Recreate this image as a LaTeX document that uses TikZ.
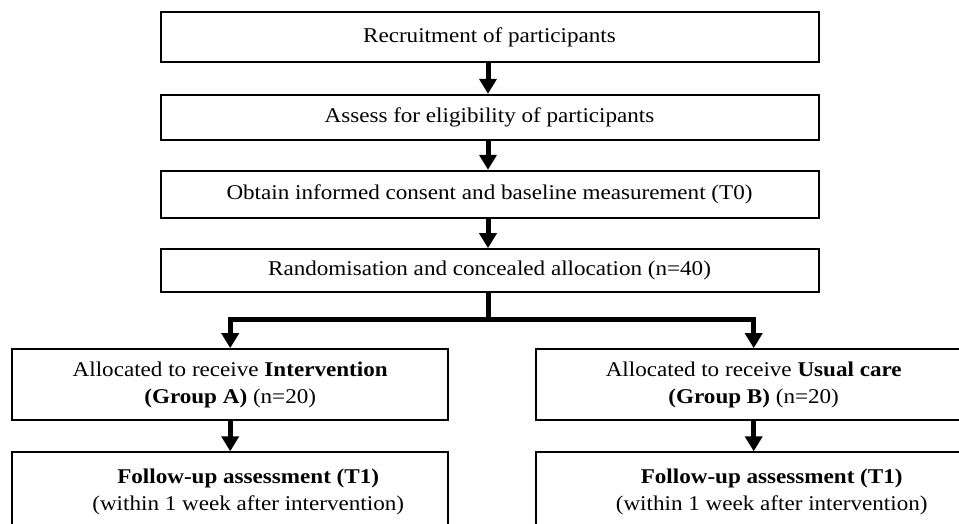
\documentclass[tikz,border=0pt]{standalone}
\usepackage{fontspec}
\setmainfont{Liberation Serif}[FakeStretch=1.1]
\usetikzlibrary{arrows.meta}

\begin{document}
\begin{tikzpicture}[x=1pt,y=-1pt,
	box/.style={draw,line width=2pt,inner sep=0pt,align=center,font=\fontsize{21}{27}\selectfont},
	wide/.style={box,minimum width=658pt},
	half/.style={box,minimum width=436pt},
	link/.style={line width=5pt},
	arr/.style={link,-{Triangle[width=17pt,length=15pt]}}
]
	\useasboundingbox (0,0) rectangle (959,523);
	\clip (0,0) rectangle (959,523);

	% main column
	\node[wide,minimum height=50.7pt] (recruit) at (489.5,37) {Recruitment of participants};
	\node[wide,minimum height=45pt] (elig) at (489.5,117.3) {Assess for eligibility of participants};
	\node[wide,minimum height=47.4pt] (consent) at (489.5,194.5) {Obtain informed consent and baseline measurement (T0)};
	\node[wide,minimum height=43.3pt] (random) at (489.5,270.8) {Randomisation and concealed allocation (n=40)};

	% groups
	\node[half,minimum height=71.3pt] (grpA) at (230.2,384.8) {Allocated to receive \textbf{Intervention}\\\textbf{(Group A)} (n=20)};
	\node[half,minimum height=71.3pt] (grpB) at (753.7,384.8) {Allocated to receive \textbf{Usual care}\\\textbf{(Group B)} (n=20)};

	\node[half,anchor=north,inner ysep=17pt,text depth=60pt] (followA) at (230.2,451.3) {\hspace*{36pt}\textbf{Follow-up assessment (T1)}\\\hspace*{36pt}(within 1 week after intervention)};
	\node[half,anchor=north,inner ysep=17pt,text depth=60pt] (followB) at (753.7,451.3) {\hspace*{36pt}\textbf{Follow-up assessment (T1)}\\\hspace*{36pt}(within 1 week after intervention)};

	\coordinate (split) at (488,319.5);

	\draw[arr] (recruit.south -| 488,0) -- (elig.north -| 488,0);
	\draw[arr] (elig.south -| 488,0) -- (consent.north -| 488,0);
	\draw[arr] (consent.south -| 488,0) -- (random.north -| 488,0);
	\draw[link] (random.south -| split) -- (split);
	\draw[arr] (split) -| (grpA.north);
	\draw[arr] (split) -| (grpB.north);
	\draw[arr] (grpA) -- (followA);
	\draw[arr] (grpB) -- (followB);
\end{tikzpicture}
\end{document}
